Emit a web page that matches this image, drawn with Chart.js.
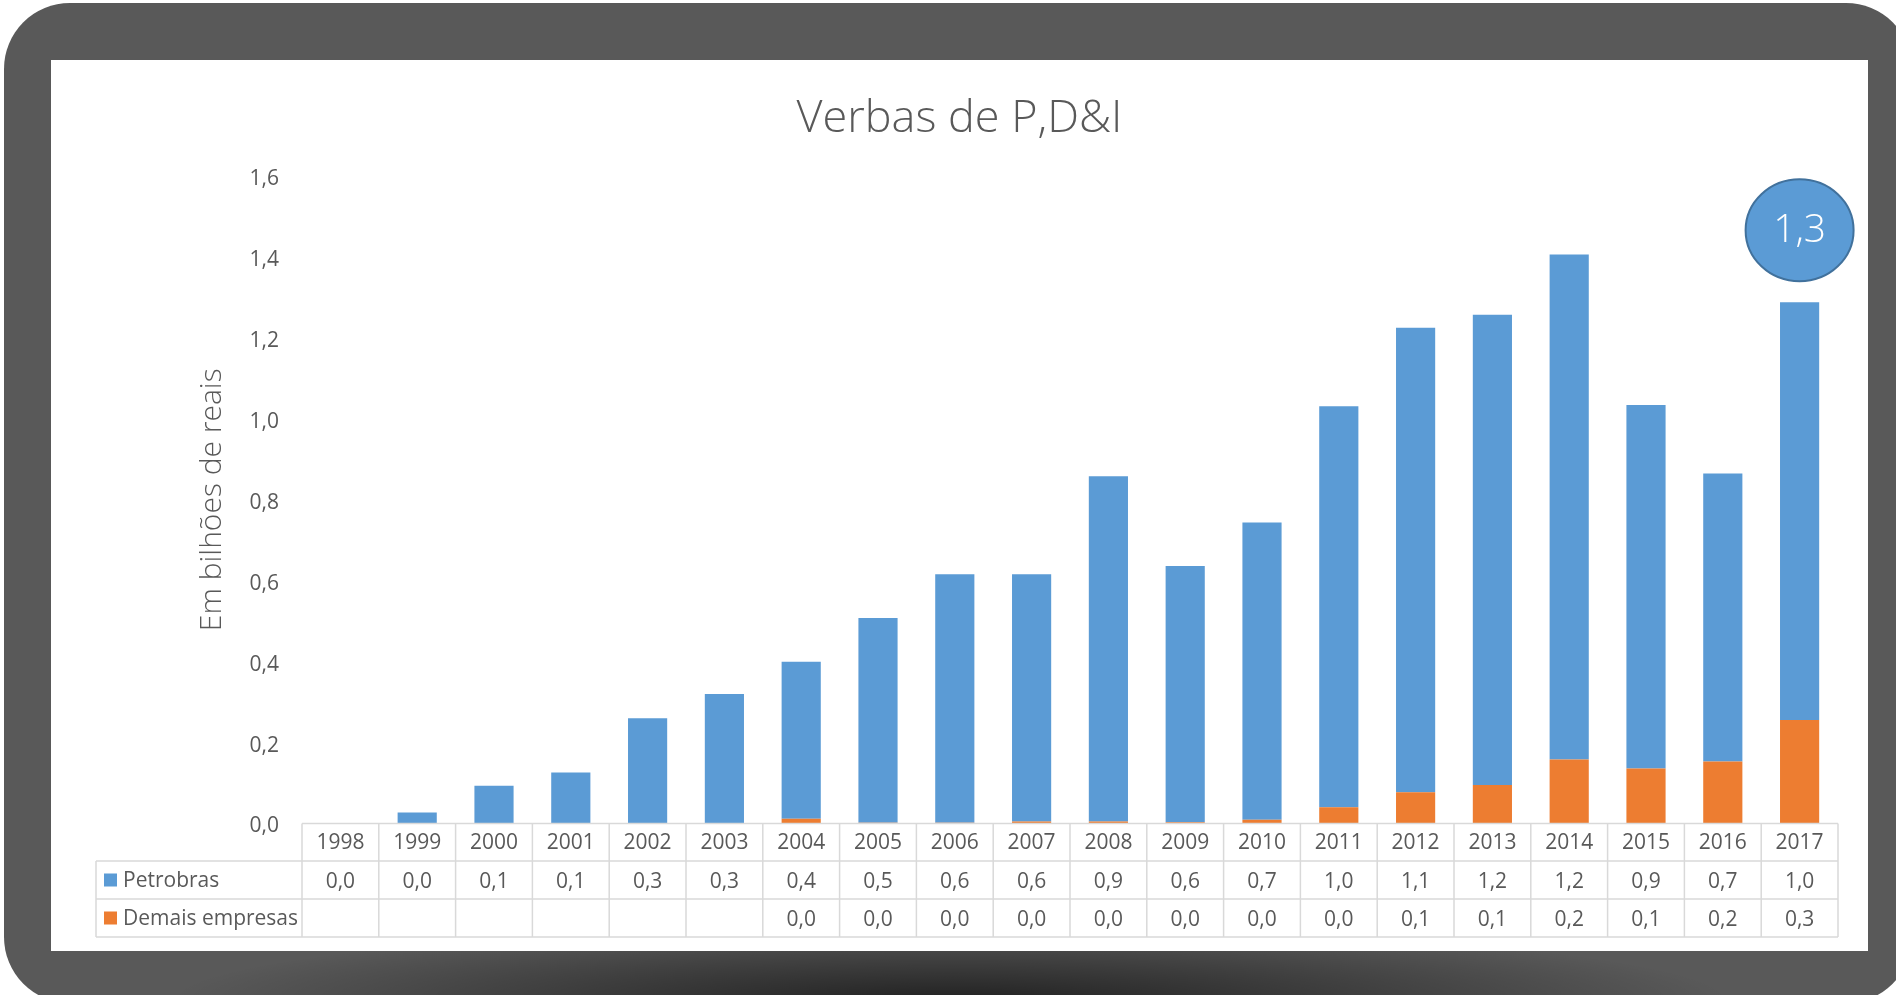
<!DOCTYPE html>
<html>
<head>
<meta charset="utf-8">
<title>Verbas de P,D&amp;I</title>
<script src="https://cdn.jsdelivr.net/npm/chart.js@4.4.1/dist/chart.umd.min.js"></script>
<style>
  html, body { margin: 0; padding: 0; background: #fff; overflow: hidden; }
  #frame { position: absolute; left: 4px; top: 3px; width: 1908px; height: 1000px; border-radius: 66px; background: #595959; overflow: hidden; }
  #shade { position: absolute; left: 0; top: 0; width: 100%; height: 100%;
    background: radial-gradient(ellipse 780px 75px at 946px 997px, rgba(0,0,0,0.62), rgba(0,0,0,0) 100%); }
  #panel { position: absolute; left: 51px; top: 60px; width: 1817px; height: 891px; background: #fff; }
  #wrap { position: absolute; left: 0; top: 0; width: 1896px; height: 995px; }
</style>
</head>
<body>
<div id="frame"><div id="shade"></div></div>
<div id="panel"></div>
<div id="wrap"><canvas id="chart1"></canvas></div>
<script>
"use strict";

// data (em bilhões de reais)
var years = ['1998', '1999', '2000', '2001', '2002', '2003', '2004', '2005', '2006', '2007',
             '2008', '2009', '2010', '2011', '2012', '2013', '2014', '2015', '2016', '2017'];
var petrobras = [0.000, 0.027, 0.093, 0.126, 0.260, 0.320, 0.388, 0.506, 0.614, 0.611,
                 0.853, 0.633, 0.735, 0.991, 1.148, 1.162, 1.248, 0.898, 0.712, 1.032];
var demais = [null, null, null, null, null, null, 0.012, 0.002, 0.002, 0.005,
              0.005, 0.003, 0.009, 0.040, 0.077, 0.095, 0.158, 0.136, 0.153, 0.256];
var seriesNames = ['Petrobras', 'Demais empresas'];
var yMin = 0, yMax = 1.6, yStep = 0.2;

var blue = '#5b9bd5';
var orange = '#ed7d31';
var textColor = '#595959';
var lineColor = '#d9d9d9';

function fmt(v) {
  return v.toFixed(1).replace('.', ',');
}

Chart.defaults.font.family = "'Open Sans', sans-serif";
Chart.defaults.color = textColor;

// data table under the x axis + the "1,3" bubble
var tablePlugin = {
  id: 'dataTable',
  afterDraw: function(chart) {
    var ctx = chart.ctx;
    var x = chart.scales.x;
    var y = chart.scales.y;
    var n = years.length;
    var colW = (x.right - x.left) / n;
    var top = chart.chartArea.bottom;
    var rows = [top, top + 37.5, top + 75.5, top + 113.5];
    var legendLeft = 96;

    ctx.save();
    ctx.strokeStyle = lineColor;
    ctx.lineWidth = 1.5;
    ctx.beginPath();
    ctx.moveTo(x.left, rows[0]);
    ctx.lineTo(x.right, rows[0]);
    for (var r = 1; r < rows.length; r++) {
      ctx.moveTo(legendLeft, rows[r]);
      ctx.lineTo(x.right, rows[r]);
    }
    for (var i = 0; i <= n; i++) {
      var bx = x.left + i * colW;
      ctx.moveTo(bx, rows[0]);
      ctx.lineTo(bx, rows[3]);
    }
    ctx.moveTo(legendLeft, rows[1]);
    ctx.lineTo(legendLeft, rows[3]);
    ctx.stroke();

    // values
    ctx.font = "21px 'Open Sans', sans-serif";
    ctx.fillStyle = textColor;
    ctx.textAlign = 'center';
    ctx.textBaseline = 'middle';
    var series = [petrobras, demais];
    for (var s = 0; s < series.length; s++) {
      var cy = (rows[s + 1] + rows[s + 2]) / 2;
      for (var j = 0; j < n; j++) {
        if (series[s][j] === null) continue;
        ctx.fillText(fmt(series[s][j]), x.getPixelForValue(j), cy + 2);
      }
    }

    // legend keys
    var colors = [blue, orange];
    ctx.textAlign = 'left';
    for (var k = 0; k < seriesNames.length; k++) {
      var ly = (rows[k + 1] + rows[k + 2]) / 2;
      ctx.fillStyle = colors[k];
      ctx.fillRect(104, ly - 6.5, 13, 13);
      ctx.fillStyle = textColor;
      ctx.fillText(seriesNames[k], 123, ly + 1);
    }

    // total bubble over the last bar
    var last = n - 1;
    var total = petrobras[last] + (demais[last] || 0);
    var cx = x.getPixelForValue(last);
    var cyB = y.getPixelForValue(total) - 72;
    ctx.beginPath();
    ctx.ellipse(cx, cyB, 54, 51, 0, 0, Math.PI * 2);
    ctx.fillStyle = blue;
    ctx.fill();
    ctx.lineWidth = 2;
    ctx.strokeStyle = '#41719c';
    ctx.stroke();
    ctx.fillStyle = '#ffffff';
    ctx.textAlign = 'center';
    ctx.font = "300 39px 'Open Sans', sans-serif";
    ctx.fillText(fmt(total), cx, cyB + 1);
    ctx.restore();
  }
};

var ctx = document.getElementById('chart1').getContext('2d');

var myChart = new Chart(ctx, {
  type: 'bar',
  data: {
    labels: years,
    datasets: [{
      label: seriesNames[0],
      data: petrobras,
      backgroundColor: blue,
      borderWidth: 0,
      order: 2
    }, {
      label: seriesNames[1],
      data: demais,
      backgroundColor: orange,
      borderWidth: 0,
      order: 1
    }]
  },
  options: {
    responsive: true,
    maintainAspectRatio: false,
    animation: false,
    barPercentage: 0.51,
    categoryPercentage: 1.0,
    layout: {
      padding: { left: 51, right: 28, top: 92, bottom: 44 }
    },
    plugins: {
      legend: { display: false },
      tooltip: { enabled: false },
      title: {
        display: true,
        text: 'Verbas de P,D&I',
        color: textColor,
        font: { size: 45, weight: '300' },
        padding: { top: 0, bottom: 30 }
      }
    },
    scales: {
      x: {
        stacked: true,
        grid: { display: false, drawTicks: false },
        border: { display: false },
        ticks: { font: { size: 21 }, color: textColor, padding: 7, maxRotation: 0 },
        afterFit: function(scale) { scale.height = 127.5; }
      },
      y: {
        stacked: true,
        min: yMin,
        max: yMax,
        grid: { display: false, drawTicks: false },
        border: { display: false },
        ticks: {
          stepSize: yStep,
          font: { size: 21 },
          color: textColor,
          padding: 23,
          labelOffset: 3,
          callback: function(v) { return fmt(v); }
        },
        title: {
          display: true,
          text: 'Em bilhões de reais',
          color: textColor,
          font: { size: 30, weight: '300' },
          padding: { top: 143, bottom: 0 }
        },
        afterFit: function(scale) { scale.width = 251; }
      },
      yR: {
        position: 'right',
        grid: { display: false, drawTicks: false },
        border: { display: false },
        ticks: { display: false },
        afterFit: function(scale) { scale.width = 30; }
      }
    }
  },
  plugins: [tablePlugin]
});
</script>
</body>
</html>
